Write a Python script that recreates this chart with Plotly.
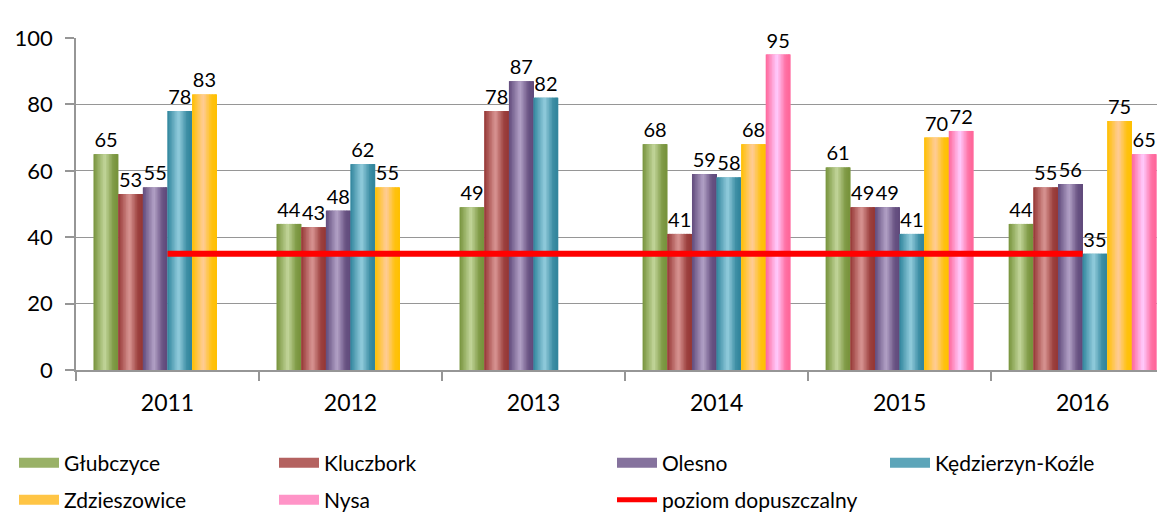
import plotly.graph_objects as go

# ---- data ----
years = ["2011", "2012", "2013", "2014", "2015", "2016"]
glubczyce = [65, 44, 49, 68, 61, 44]
kluczbork = [53, 43, 78, 41, 49, 55]
olesno = [55, 48, 87, 59, 49, 56]
kedzierzyn = [78, 62, 82, 58, 41, 35]
zdzieszowice = [83, 55, None, 68, 70, 75]
nysa = [None, None, None, 95, 72, 65]
limit_level = [35, 35, 35, 35, 35, 35]

series_names = ["Głubczyce", "Kluczbork", "Olesno", "Kędzierzyn-Koźle", "Zdzieszowice", "Nysa"]
series_values = [glubczyce, kluczbork, olesno, kedzierzyn, zdzieszowice, nysa]
limit_name = "poziom dopuszczalny"

# gradient colours (dark edge, light centre)
dark_cols = [(119, 147, 60), (149, 55, 53), (96, 74, 123), (49, 133, 156), (255, 192, 0), (255, 102, 153)]
light_cols = [(195, 214, 155), (217, 150, 148), (179, 162, 199), (147, 205, 221), (255, 204, 153), (255, 204, 255)]

FONT = "Lato"
N_STRIPES = 16
GAP = 0.193
bar_w = (1 - GAP) / 6

# the page body adds an 8px margin; figure is sized to fill the rest of the window
PAGE_OFF = 8
FIG_W, FIG_H = 1165 - PAGE_OFF, 516 - PAGE_OFF

# legend item placement (text start x in page px, row centre y in page px)
legend_pos = [(66, 463), (326, 463), (664, 463), (937, 463), (66, 500), (326, 500), (664, 500)]
LEGEND_TEXT_OFFSET = 52


def profile(t):
    pts = [(0.0, 0.0), (0.45, 1.0), (0.8, 0.1), (1.0, 0.0)]
    for (t0, v0), (t1, v1) in zip(pts[:-1], pts[1:]):
        if t0 <= t <= t1:
            return v0 + (v1 - v0) * (t - t0) / (t1 - t0)
    return 0.0


def mix(a, b, f):
    return "rgb(%d,%d,%d)" % tuple(round(a[i] + (b[i] - a[i]) * f) for i in range(3))


def legend_id(k):
    return "legend" if k == 0 else "legend%d" % (k + 1)


fig = go.Figure()

for i, (name, vals) in enumerate(zip(series_names, series_values)):
    off = -3 * bar_w + i * bar_w
    # base bar: carries label
    fig.add_trace(go.Bar(
        x=years, y=vals, name=name, offset=off, width=bar_w,
        marker=dict(color=mix(dark_cols[i], light_cols[i], 0.3), line=dict(width=0)),
        text=[str(v) if v is not None else "" for v in vals],
        textposition="outside", constraintext="none", cliponaxis=False,
        textfont=dict(family=FONT, size=20, color="black"),
        showlegend=False, hoverinfo="skip",
    ))
    sw = bar_w / N_STRIPES
    for k in range(N_STRIPES):
        t = (k + 0.5) / N_STRIPES
        w = sw * 1.6 if k < N_STRIPES - 1 else sw
        fig.add_trace(go.Bar(
            x=years, y=vals, offset=off + k * sw, width=w,
            marker=dict(color=mix(dark_cols[i], light_cols[i], profile(t)), line=dict(width=0)),
            showlegend=False, hoverinfo="skip",
        ))

fig.add_trace(go.Scatter(
    x=years, y=limit_level, name=limit_name, mode="lines",
    line=dict(color="#FF0000", width=6), hoverinfo="skip", showlegend=False,
))

# legend-only entries
for i, name in enumerate(series_names):
    fig.add_trace(go.Scatter(
        x=[None], y=[None], name=name, mode="lines",
        line=dict(color=mix(dark_cols[i], light_cols[i], 0.45), width=15),
        legend=legend_id(i), showlegend=True, hoverinfo="skip",
    ))
fig.add_trace(go.Scatter(
    x=[None], y=[None], name=limit_name, mode="lines",
    line=dict(color="#FF0000", width=5),
    legend=legend_id(6), showlegend=True, hoverinfo="skip",
))

layout_legends = {}
for k, (tx, ty) in enumerate(legend_pos):
    layout_legends[legend_id(k)] = dict(
        xref="container", yref="container",
        x=(tx - PAGE_OFF - LEGEND_TEXT_OFFSET) / FIG_W,
        y=1 - (ty - PAGE_OFF) / FIG_H, xanchor="left", yanchor="middle",
        font=dict(family=FONT, size=21, color="black"),
        bgcolor="rgba(0,0,0,0)", itemwidth=40,
    )

fig.update_layout(
    width=FIG_W, height=FIG_H,
    margin=dict(l=76 - PAGE_OFF, r=0, t=38 - PAGE_OFF, b=146, autoexpand=False),
    barmode="overlay",
    plot_bgcolor="white", paper_bgcolor="white",
    font=dict(family=FONT, size=20, color="black"),
    showlegend=True,
    **layout_legends,
)

fig.update_xaxes(
    type="category", range=[-0.5, 5.45],
    showline=True, linecolor="#969696", linewidth=1.5,
    ticks="outside", tickson="boundaries", ticklen=9, tickcolor="#969696", tickwidth=1.5,
    tickfont=dict(family=FONT, size=23, color="black"), ticklabelstandoff=12,
    showgrid=False, zeroline=False, automargin=False,
)
fig.update_yaxes(
    range=[0, 100], dtick=20, tick0=0,
    showline=True, linecolor="#969696", linewidth=1.5,
    ticks="outside", ticklen=9, tickcolor="#969696", tickwidth=1.5,
    showgrid=True, gridcolor="#969696", gridwidth=1.3,
    zeroline=False, ticklabelstandoff=8, automargin=False,
    tickfont=dict(family=FONT, size=22, color="black"),
)

fig.write_html("out.html")
